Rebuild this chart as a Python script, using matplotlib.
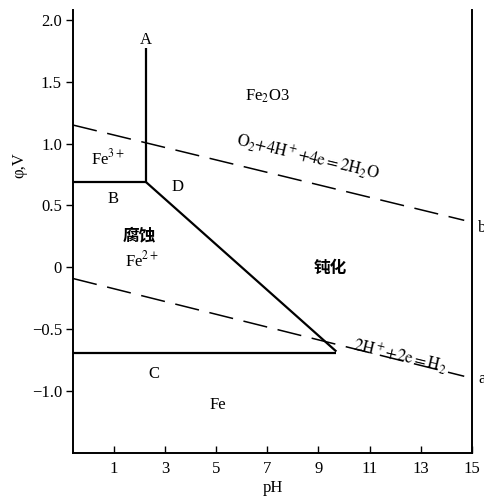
import matplotlib
matplotlib.use('Agg')
import matplotlib.pyplot as plt

plt.rcParams['font.family'] = ['Liberation Serif', 'Noto Sans CJK SC']
plt.rcParams['mathtext.fontset'] = 'stix'
plt.rcParams['axes.unicode_minus'] = True

# region boundaries (pH, potential in V)
bound_A_ph, bound_A_phi = [2.25, 2.25], [0.69, 1.77]
bound_B_ph, bound_B_phi = [-0.6, 2.25], [0.69, 0.69]
bound_D_ph, bound_D_phi = [2.25, 9.7], [0.69, -0.68]
bound_C_ph, bound_C_phi = [-0.6, 9.7], [-0.69, -0.69]

# water stability lines
o2_ph, o2_phi = [-0.6, 14.7], [1.15, 0.38]
h2_ph, h2_phi = [-0.6, 14.7], [-0.09, -0.88]

xticks = [1, 3, 5, 7, 9, 11, 13, 15]
yticks = [2.0, 1.5, 1.0, 0.5, 0, -0.5, -1.0]
ytick_labels = ['2.0', '1.5', '1.0', '0.5', '0', '\u22120.5', '\u22121.0']

fig = plt.figure(figsize=(4.85, 4.97), dpi=100)
ax = fig.add_axes([0.1505, 0.0885, 0.8225, 0.8915])

for xs, ys in [(bound_A_ph, bound_A_phi), (bound_B_ph, bound_B_phi),
               (bound_D_ph, bound_D_phi), (bound_C_ph, bound_C_phi)]:
    ax.plot(xs, ys, color='black', lw=1.6, solid_capstyle='butt')

for xs, ys in [(o2_ph, o2_phi), (h2_ph, h2_phi)]:
    ax.plot(xs, ys, color='black', lw=1.1, dashes=(16, 7))

ax.set_xlim(-0.6, 15)
ax.set_ylim(-1.5, 2.08)
ax.spines['top'].set_visible(False)
for s in ['left', 'bottom', 'right']:
    ax.spines[s].set_linewidth(1.4)

ax.set_xticks(xticks)
ax.set_xticklabels([str(t) for t in xticks], fontsize=12)
ax.set_yticks(yticks)
ax.set_yticklabels(ytick_labels, fontsize=12)
ax.tick_params(axis='x', direction='in', length=5, width=1, pad=6)
ax.tick_params(axis='y', direction='out', length=5, width=1, pad=3)

ax.set_xlabel('pH', fontsize=12, labelpad=2)
ax.set_ylabel('\u03c6,V', fontsize=12)
ax.yaxis.set_label_coords(-0.115, 0.65)

fs = 12
ax.text(2.25, 1.84, 'A', fontsize=fs, ha='center', va='center')
ax.text(7.0, 1.38, r'Fe$_2$O3', fontsize=fs, ha='center', va='center')
ax.text(0.75, 0.88, r'Fe$^{3+}$', fontsize=fs, ha='center', va='center')
ax.text(0.95, 0.55, 'B', fontsize=fs, ha='center', va='center')
ax.text(3.5, 0.65, 'D', fontsize=fs, ha='center', va='center')
ax.text(2.0, 0.26, '腐蚀', fontsize=12, ha='center', va='center',
        family='Noto Sans CJK SC', fontweight='bold')
ax.text(2.1, 0.06, r'Fe$^{2+}$', fontsize=fs, ha='center', va='center')
ax.text(9.45, 0.0, '钝化', fontsize=12, ha='center', va='center',
        family='Noto Sans CJK SC', fontweight='bold')
ax.text(2.56, -0.86, 'C', fontsize=fs, ha='center', va='center')
ax.text(5.06, -1.11, 'Fe', fontsize=fs, ha='center', va='center')
ax.text(8.6, 0.89, r'$\mathrm{O_2{+}4H^+{+}4e{=}2H_2O}$', fontsize=12,
        ha='center', va='center', rotation=-13.5)
ax.text(12.2, -0.72, r'$\mathrm{2H^+{+}2e{=}H_2}$', fontsize=12,
        ha='center', va='center', rotation=-13.5)
ax.text(15.4, 0.32, 'b', fontsize=fs, ha='center', va='center', clip_on=False)
ax.text(15.4, -0.9, 'a', fontsize=fs, ha='center', va='center', clip_on=False)

fig.savefig('out.png', dpi=100)
